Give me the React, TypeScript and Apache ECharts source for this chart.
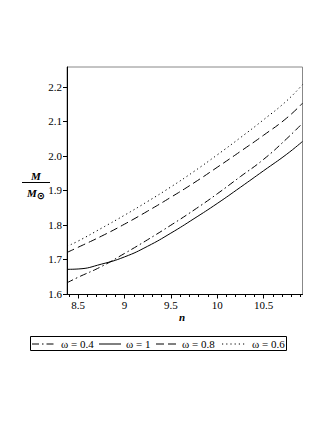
import React, { useEffect, useRef } from "react";
import * as echarts from "echarts";

const nValues = [8.38, 8.5, 8.75, 9, 9.25, 9.5, 9.75, 10, 10.25, 10.5, 10.75, 10.92];
const omega04 = [1.632, 1.648, 1.679, 1.717, 1.757, 1.799, 1.843, 1.89, 1.94, 1.99, 2.05, 2.095];
const omega1 = [1.671, 1.672, 1.686, 1.707, 1.738, 1.776, 1.818, 1.862, 1.909, 1.957, 2.005, 2.042];
const omega08 = [1.72, 1.735, 1.767, 1.802, 1.84, 1.88, 1.922, 1.967, 2.013, 2.06, 2.11, 2.153];
const omega06 = [1.738, 1.753, 1.79, 1.828, 1.868, 1.91, 1.955, 2.003, 2.053, 2.105, 2.16, 2.207];

const xTicks = [8.5, 9, 9.5, 10, 10.5];
const xMinorTicks = [8.4, 8.5, 8.6, 8.7, 8.8, 8.9, 9, 9.1, 9.2, 9.3, 9.4, 9.5, 9.6, 9.7, 9.8, 9.9, 10, 10.1, 10.2, 10.3, 10.4, 10.5, 10.6, 10.7, 10.8, 10.9];
const yTicks = [1.6, 1.7, 1.8, 1.9, 2.0, 2.1, 2.2];
const legendLabels = ["ω = 0.4", "ω = 1", "ω = 0.8", "ω = 0.6"];

const FONT = "'Liberation Serif', 'DejaVu Serif', serif";
const dashDot = [7, 3, 1.5, 3];
const dashed = [8, 4];
const dotted = [1.2, 3];

export default function App() {
  const ref = useRef<HTMLDivElement>(null);
  useEffect(() => {
    if (!ref.current) return;
    const chart = echarts.init(ref.current, null, { renderer: "svg" });
    const mk = (vals: number[]) => nValues.map((x, i) => [x, vals[i]]);
    const styles = [dashDot, "solid", dashed, dotted];
    const datas = [omega04, omega1, omega08, omega06];
    const legendPos = [
      { x1: 32, x2: 54, tx: 61 },
      { x1: 99, x2: 121, tx: 126 },
      { x1: 156, x2: 178, tx: 182 },
      { x1: 222, x2: 246, tx: 252 },
    ];
    const ly = 344;
    const graphic: any[] = [
      { type: "text", left: 179, top: 311, style: { text: "n", font: `italic bold 11px ${FONT}`, fill: "#000" } },
      { type: "text", x: 36, y: 170, style: { text: "M", font: `italic bold 11px ${FONT}`, fill: "#000", align: "center" } },
      { type: "line", shape: { x1: 22, y1: 182.5, x2: 50, y2: 182.5 }, style: { stroke: "#000", lineWidth: 1 } },
      {
        type: "text", x: 36, y: 185,
        style: {
          text: "{a|M}{b|⊙}", align: "center", fill: "#000",
          rich: {
            a: { font: `italic bold 11px ${FONT}`, fill: "#000" },
            b: { font: `bold 10px 'DejaVu Sans', sans-serif`, fill: "#000", padding: [5, 0, 0, 0] },
          },
        },
      },
      { type: "rect", shape: { x: 30.5, y: 336.5, width: 256, height: 14 }, style: { fill: "none", stroke: "#000", lineWidth: 1 } },
    ];
    legendPos.forEach((p, i) => {
      graphic.push({
        type: "line",
        shape: { x1: p.x1, y1: ly, x2: p.x2, y2: ly },
        style: { stroke: "#000", lineWidth: 1, lineDash: styles[i] === "solid" ? null : styles[i] },
      });
      graphic.push({
        type: "text", x: p.tx, y: ly,
        style: { text: legendLabels[i], font: `11px ${FONT}`, fill: "#000", verticalAlign: "middle" },
      });
    });
    chart.setOption({
      animation: false,
      grid: {
        left: 67, top: 67, right: 24.5, bottom: 128.5,
        show: true, borderColor: "#888", borderWidth: 1, backgroundColor: "transparent",
      },
      xAxis: [
        {
          type: "value", min: 8.38, max: 10.92,
          axisLine: { show: true, lineStyle: { color: "#000", width: 1 } },
          axisTick: { show: true, length: 4, inside: false, customValues: xTicks, lineStyle: { color: "#000" } },
          axisLabel: { customValues: xTicks, margin: 5, color: "#000", fontFamily: FONT, fontSize: 11, formatter: (v: number) => String(v) },
          splitLine: { show: false },
        },
        {
          type: "value", min: 8.38, max: 10.92, position: "bottom",
          axisLine: { show: false },
          axisTick: { show: true, length: 2.5, customValues: xMinorTicks, lineStyle: { color: "#000" } },
          axisLabel: { show: false },
          splitLine: { show: false },
        },
      ],
      yAxis: {
        type: "value", min: 1.598, max: 2.258,
        axisLine: { show: true, lineStyle: { color: "#000", width: 1 } },
        axisTick: { show: true, length: 4, customValues: yTicks, lineStyle: { color: "#000" } },
        axisLabel: { customValues: yTicks, margin: 5, color: "#000", fontFamily: FONT, fontSize: 11, formatter: (v: number) => v.toFixed(1) },
        splitLine: { show: false },
      },
      graphic,
      series: datas.map((d, i) => ({
        type: "line",
        name: legendLabels[i],
        data: mk(d),
        smooth: true,
        showSymbol: false,
        symbol: "none",
        lineStyle: { color: "#000", width: 1, type: styles[i] },
      })),
    });
    return () => chart.dispose();
  }, []);
  return <div ref={ref} style={{ position: "fixed", left: 0, top: 0, width: 327, height: 423, background: "#fff" }} />;
}
